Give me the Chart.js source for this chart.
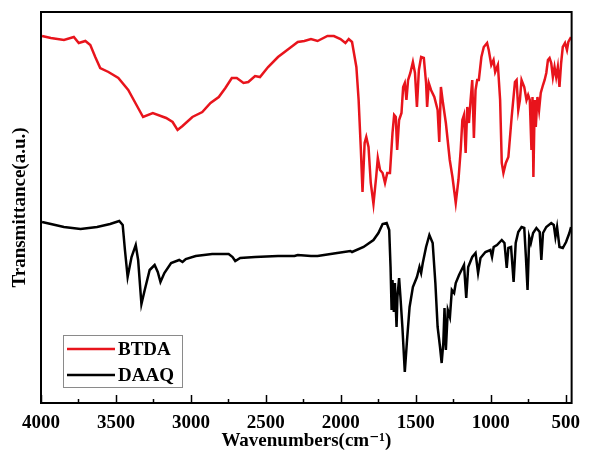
<!DOCTYPE html>
<html>
<head>
<meta charset="utf-8">
<script src="https://cdn.jsdelivr.net/npm/chart.js@4"></script>
<style>
  body { margin: 0; background: #fff; font-family: "Liberation Serif", "DejaVu Serif", serif; }
  #wrap { width: 589px; height: 462px; }
</style>
</head>
<body>
<div id="wrap"><canvas id="myChart" width="589" height="462"></canvas></div>
<script>
// FTIR spectra, transmittance in arbitrary units
const btdaWavenumbers = [3993,3934,3847,3781,3748,3704,3671,3638,3605,3550,3484,3418,3363,3319,3254,3165,3122,3089,3056,2990,2924,2869,2814,2770,2727,2694,2649,2617,2572,2539,2485,2419,2331,2287,2243,2199,2155,2089,2046,2002,1969,1947,1925,1896,1881,1866,1855,1841,1830,1815,1800,1782,1764,1753,1738,1721,1705,1690,1672,1655,1644,1633,1624,1611,1595,1584,1573,1562,1551,1536,1519,1505,1492,1479,1464,1446,1431,1424,1413,1398,1376,1354,1343,1332,1321,1299,1273,1255,1233,1215,1200,1189,1178,1167,1156,1145,1134,1123,1112,1101,1090,1079,1062,1046,1024,1013,996,981,970,952,937,926,915,899,882,860,838,827,816,805,794,776,761,750,739,728,721,715,706,699,688,677,666,651,640,629,618,607,596,585,574,563,552,541,530,519,504,491,482,464];
const btdaValues = [366,364,362,365,359,361,357,345,334,330,324,312,297,285,289,284,280,272,276,285,290,299,305,314,324,324,319,320,326,325,335,345,355,360,361,363,361,366,366,363,359,363,360,335,302,252,210,259,265,255,219,198,225,244,232,229,219,229,229,269,287,285,252,282,289,315,319,302,322,329,340,329,295,332,345,344,319,295,319,312,305,292,260,315,302,279,242,225,199,222,252,282,287,249,295,279,302,322,264,312,322,322,345,355,359,352,337,342,330,337,302,239,229,239,245,285,320,322,292,302,322,315,302,307,302,252,305,225,302,275,305,292,309,317,322,329,342,344,339,325,335,325,335,315,339,355,359,352,360,365];

const daaqWavenumbers = [3993,3934,3847,3736,3626,3539,3478,3455,3440,3422,3396,3368,3352,3330,3308,3275,3242,3221,3203,3177,3132,3078,3056,3034,2968,2858,2748,2722,2704,2671,2572,2419,2309,2287,2199,2155,2024,1936,1925,1848,1782,1749,1721,1694,1677,1668,1661,1655,1646,1639,1628,1622,1611,1602,1589,1573,1558,1541,1519,1492,1475,1464,1453,1431,1409,1387,1369,1354,1338,1327,1316,1308,1299,1286,1272,1259,1244,1233,1211,1178,1163,1150,1123,1101,1084,1068,1035,1002,991,980,958,926,908,893,882,864,847,833,816,794,776,765,754,743,732,717,695,673,662,651,629,596,579,568,557,541,519,497,475,464];
const daaqValues = [180,178,175,173,175,178,181,177,152,125,145,157,142,98,112,132,137,130,120,129,139,142,140,143,146,148,148,145,141,144,145,146,146,147,146,146,149,151,150,155,162,169,178,179,172,135,92,122,90,119,75,105,124,105,75,30,62,95,115,125,135,129,139,155,167,159,119,75,55,39,59,94,52,92,85,112,109,119,127,137,104,135,145,149,129,144,150,152,145,155,157,162,159,134,154,155,120,159,170,175,174,145,112,165,159,169,174,170,142,169,175,179,177,165,175,155,154,160,169,175];

const seriesNames = ['BTDA', 'DAAQ'];
const seriesColors = ['#e8141c', '#000000'];
const xTickValues = [4000, 3500, 3000, 2500, 2000, 1500, 1000, 500];
const xMinorStep = 250;

const toPoints = (xs, ys) => xs.map((x, i) => ({ x: x, y: ys[i] }));

const serif = "'Liberation Serif', 'DejaVu Serif', serif";

// frame, inner tick marks and the boxed legend
const decorations = {
  id: 'decorations',
  afterDraw(chart) {
    const { ctx, chartArea: a, scales } = chart;
    const xs = scales.x;
    ctx.save();
    ctx.strokeStyle = '#000';
    ctx.lineWidth = 2;
    ctx.strokeRect(a.left, a.top, a.right - a.left, a.bottom - a.top);

    ctx.lineWidth = 1.5;
    for (let v = 500; v <= 4000; v += xMinorStep) {
      const px = Math.round(xs.getPixelForValue(v)) + 0.5;
      const len = v % 500 === 0 ? 8 : 4;
      ctx.beginPath();
      ctx.moveTo(px, a.bottom);
      ctx.lineTo(px, a.bottom - len);
      ctx.stroke();
    }

    // legend box
    const bx = 63, by = 335, bw = 119, bh = 52;
    ctx.strokeStyle = '#8a8a8a';
    ctx.lineWidth = 1;
    ctx.strokeRect(bx + 0.5, by + 0.5, bw, bh);
    ctx.font = 'bold 19px ' + serif;
    ctx.textBaseline = 'middle';
    chart.data.datasets.forEach((ds, i) => {
      const ly = by + 14 + i * 26;
      ctx.strokeStyle = ds.borderColor;
      ctx.lineWidth = 2.5;
      ctx.beginPath();
      ctx.moveTo(bx + 4, ly);
      ctx.lineTo(bx + 52, ly);
      ctx.stroke();
      ctx.fillStyle = '#000';
      ctx.fillText(ds.label, bx + 55, ly + 1);
    });
    ctx.restore();
  }
};

function makeChart() {
  const ctx = document.getElementById('myChart').getContext('2d');
  return new Chart(ctx, {
    type: 'line',
    data: {
      datasets: [
        {
          label: seriesNames[0],
          data: toPoints(btdaWavenumbers, btdaValues),
          borderColor: seriesColors[0],
          borderWidth: 2.5,
          pointRadius: 0,
          tension: 0
        },
        {
          label: seriesNames[1],
          data: toPoints(daaqWavenumbers, daaqValues),
          borderColor: seriesColors[1],
          borderWidth: 2.5,
          pointRadius: 0,
          tension: 0
        }
      ]
    },
    options: {
      responsive: false,
      animation: false,
      layout: { padding: { top: 12, right: 11, left: 0, bottom: 0 } },
      plugins: {
        legend: { display: false },
        tooltip: { enabled: false }
      },
      scales: {
        x: {
          type: 'linear',
          reverse: true,
          min: 460,
          max: 4000,
          afterBuildTicks: (scale) => { scale.ticks = xTickValues.map(v => ({ value: v })); },
          afterFit: (scale) => { scale.height = 59; },
          grid: { display: false, drawTicks: false },
          border: { display: false },
          ticks: {
            color: '#000',
            padding: 9,
            maxRotation: 0,
            autoSkip: false,
            callback: (v) => String(v),
            font: { family: serif, size: 19, weight: 'bold' }
          },
          title: {
            display: true,
            text: 'Wavenumbers(cm⁻¹)',
            color: '#000',
            padding: { top: 0, bottom: 10 },
            font: { family: serif, size: 19, weight: 'bold' }
          }
        },
        y: {
          min: -1,
          max: 390,
          afterFit: (scale) => { scale.width = 41; },
          grid: { display: false, drawTicks: false },
          border: { display: false },
          ticks: { display: false },
          title: {
            display: true,
            text: 'Transmittance(a.u.)',
            color: '#000',
            padding: { top: 9, bottom: 0 },
            font: { family: serif, size: 19, weight: 'bold' }
          }
        }
      }
    },
    plugins: [decorations]
  });
}

const fontReady = document.fonts && document.fonts.load
  ? document.fonts.load("bold 19px 'Liberation Serif'").catch(() => null)
  : Promise.resolve();
fontReady.then(makeChart, makeChart);
</script>
</body>
</html>
